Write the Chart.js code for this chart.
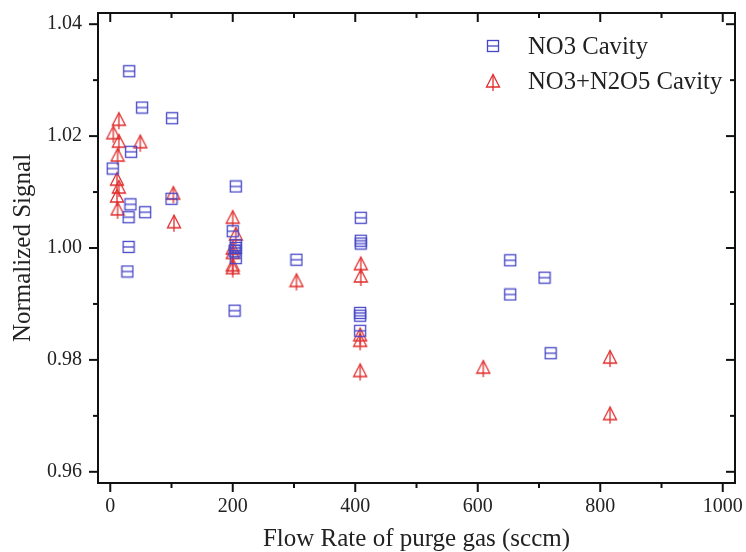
<!DOCTYPE html>
<html>
<head>
<meta charset="utf-8">
<script src="https://cdn.jsdelivr.net/npm/chart.js@4"></script>
<style>
  body { margin: 0; background: #fff; }
</style>
</head>
<body>
<canvas id="myChart" width="746" height="552"></canvas>
<script>
// Dados
const no3X = [31, 52, 101, 34, 4, 205, 100, 33, 57, 30, 30, 28, 200, 205, 205, 203, 205, 203, 304, 409, 409, 409, 408, 408, 408, 653, 709, 653, 719];
const no3Y = [1.0316, 1.0251, 1.0232, 1.0172, 1.0142, 1.0110, 1.0088, 1.0078, 1.0064, 1.0055, 1.0002, 0.9958, 1.0030, 1.0005, 1.0000, 0.9995, 0.9982, 0.9888, 0.9979, 1.0054, 1.0013, 1.0008, 0.9884, 0.9879, 0.9852, 0.9978, 0.9947, 0.9917, 0.9812];

const n2o5X = [14, 5, 14, 49, 12, 11, 14, 11, 12, 103, 104, 200, 205, 200, 200, 200, 200, 304, 409, 409, 408, 408, 408, 609, 816, 816];
const n2o5Y = [1.0230, 1.0206, 1.0191, 1.0190, 1.0166, 1.0123, 1.0109, 1.0093, 1.0070, 1.0098, 1.0047, 1.0055, 1.0025, 1.0000, 0.9992, 0.9970, 0.9965, 0.9942, 0.9972, 0.9950, 0.9845, 0.9835, 0.9781, 0.9787, 0.9805, 0.9704];

const xTicks = [0, 200, 400, 600, 800, 1000];
const xMinor = [100, 300, 500, 700, 900];
const yTicks = [0.96, 0.98, 1.00, 1.02, 1.04];
const yMinor = [0.97, 0.99, 1.01, 1.03];

const blue = 'rgb(70, 70, 200)';
const red = 'rgb(225, 45, 45)';
const serif = "'Liberation Serif', 'Times New Roman', serif";

// marcadores
function squareMarker(color) {
    const c = document.createElement('canvas');
    c.width = 14; c.height = 14;
    const g = c.getContext('2d');
    g.strokeStyle = color;
    g.lineWidth = 1.3;
    g.strokeRect(1.5, 1.5, 11, 11);
    g.beginPath();
    g.moveTo(1.5, 7); g.lineTo(12.5, 7);
    g.stroke();
    return c;
}

function triangleMarker(color) {
    const c = document.createElement('canvas');
    c.width = 16; c.height = 24;
    const g = c.getContext('2d');
    g.strokeStyle = color;
    g.lineWidth = 1.3;
    g.beginPath();
    g.moveTo(8, 5.5); g.lineTo(1.5, 18); g.lineTo(14.5, 18); g.closePath();
    g.stroke();
    g.beginPath();
    g.moveTo(8, 5.5); g.lineTo(8, 22);
    g.stroke();
    return c;
}

const sqImg = squareMarker(blue);
const triImg = triangleMarker(red);

const toPoints = (xs, ys) => xs.map((x, i) => ({ x: x, y: ys[i] }));

// moldura com ticks nos quatro lados
const framePlugin = {
    id: 'frame',
    afterDraw(chart) {
        const { ctx, chartArea: a, scales: { x, y } } = chart;
        ctx.save();
        ctx.strokeStyle = '#111';
        ctx.lineWidth = 2;
        ctx.strokeRect(a.left, a.top, a.right - a.left, a.bottom - a.top);
        const tick = (x1, y1, x2, y2) => {
            ctx.beginPath(); ctx.moveTo(x1, y1); ctx.lineTo(x2, y2); ctx.stroke();
        };
        const drawX = (v, len) => {
            const px = x.getPixelForValue(v);
            tick(px, a.bottom, px, a.bottom + len);
            tick(px, a.top, px, a.top + len);
        };
        const drawY = (v, len) => {
            const py = y.getPixelForValue(v);
            tick(a.left, py, a.left - len, py);
            tick(a.right, py, a.right - len, py);
        };
        xTicks.forEach(v => drawX(v, 9));
        xMinor.forEach(v => drawX(v, 5));
        yTicks.forEach(v => drawY(v, 9));
        yMinor.forEach(v => drawY(v, 5));

        // legenda
        ctx.font = '24.7px ' + serif;
        ctx.fillStyle = '#222';
        ctx.textBaseline = 'alphabetic';
        ctx.textAlign = 'left';
        const imgs = [sqImg, triImg];
        chart.data.datasets.forEach((ds, i) => {
            const cy = a.top + 33 + i * 35;
            const img = imgs[i];
            ctx.drawImage(img, a.left + 395 - img.width / 2, cy - img.height / 2);
            ctx.fillText(ds.label, a.left + 430, cy + 8);
        });
        ctx.restore();
    }
};

const ctx = document.getElementById('myChart').getContext('2d');

const myChart = new Chart(ctx, {
    type: 'scatter',
    data: {
        datasets: [{
            label: 'NO3 Cavity',
            data: toPoints(no3X, no3Y),
            pointStyle: sqImg,
            borderColor: blue,
            backgroundColor: blue
        }, {
            label: 'NO3+N2O5 Cavity',
            data: toPoints(n2o5X, n2o5Y),
            pointStyle: triImg,
            borderColor: red,
            backgroundColor: red
        }]
    },
    options: {
        responsive: false,
        animation: false,
        layout: {
            padding: { top: 13, right: 11, left: 0, bottom: 0 }
        },
        plugins: {
            legend: { display: false },
            tooltip: { enabled: false }
        },
        scales: {
            x: {
                type: 'linear',
                min: -20,
                max: 1020,
                afterBuildTicks: (s) => { s.ticks = xTicks.map(v => ({ value: v })); },
                afterFit: (s) => { s.height = 69; s.paddingLeft = 0; s.paddingRight = 0; },
                grid: { display: false, drawTicks: false },
                border: { display: false },
                ticks: {
                    padding: 12,
                    color: '#222',
                    font: { family: serif, size: 20 },
                    callback: (v) => String(v)
                },
                title: {
                    display: true,
                    text: 'Flow Rate of purge gas (sccm)',
                    color: '#222',
                    font: { family: serif, size: 25 },
                    padding: { top: 0, bottom: -2 }
                }
            },
            y: {
                min: 0.958,
                max: 1.042,
                afterBuildTicks: (s) => { s.ticks = yTicks.map(v => ({ value: v })); },
                afterFit: (s) => { s.width = 98; s.paddingTop = 0; s.paddingBottom = 0; },
                grid: { display: false, drawTicks: false },
                border: { display: false },
                ticks: {
                    padding: 16,
                    color: '#222',
                    font: { family: serif, size: 20 },
                    callback: (v) => v.toFixed(2)
                },
                title: {
                    display: true,
                    text: 'Normalized Signal',
                    color: '#222',
                    font: { family: serif, size: 25 },
                    padding: { top: 8, bottom: 0 }
                }
            }
        }
    },
    plugins: [framePlugin]
});
</script>
</body>
</html>
